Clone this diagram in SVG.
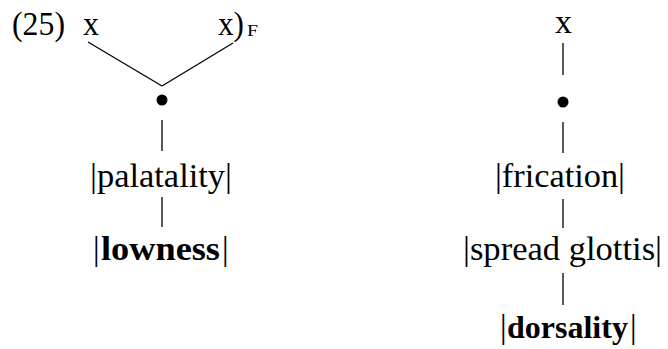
<svg xmlns="http://www.w3.org/2000/svg" width="668" height="349" viewBox="0 0 668 349">
  <style>
    text { font-family: "Liberation Serif", "DejaVu Serif", serif; fill: #000; }
    .lbl { font-size: 33px; }
    .b { font-weight: bold; }
    .sub { font-size: 17px; }
    .edge { stroke: #000; stroke-width: 1.3; fill: none; }
    .dot { fill: #000; }
  </style>
  <rect width="668" height="349" fill="#fff"/>

  <!-- example number -->
  <text id="num" class="lbl" x="12" y="35" textLength="53" lengthAdjust="spacingAndGlyphs">(25)</text>

  <!-- connectors -->
  <g id="connectors">
    <line class="edge" x1="88" y1="42" x2="162" y2="86"/>
    <line class="edge" x1="233" y1="43" x2="162" y2="86"/>
    <line class="edge" x1="162" y1="120" x2="162" y2="151"/>
    <line class="edge" x1="162" y1="197" x2="162" y2="227"/>
    <line class="edge" x1="563" y1="43" x2="563" y2="75"/>
    <line class="edge" x1="563" y1="122" x2="563" y2="153"/>
    <line class="edge" x1="563" y1="199" x2="563" y2="228"/>
    <line class="edge" x1="563" y1="273" x2="563" y2="305"/>
  </g>

  <!-- left structure -->
  <g id="x-left"><text class="lbl" x="83" y="35" textLength="16" lengthAdjust="spacingAndGlyphs">x</text></g>
  <g id="x-right">
    <text class="lbl" x="218" y="35" textLength="26" lengthAdjust="spacingAndGlyphs">x)</text>
    <text class="sub" x="247" y="36" textLength="11" lengthAdjust="spacingAndGlyphs">F</text>
  </g>
  <g id="dot-left"><circle class="dot" cx="162" cy="100" r="5.5"/></g>
  <g id="palatality"><text class="lbl" x="90" y="187" textLength="142" lengthAdjust="spacingAndGlyphs">|palatality|</text></g>
  <g id="lowness">
    <text class="lbl" x="93" y="260">|</text>
    <text class="lbl b" x="101" y="260" textLength="119" lengthAdjust="spacingAndGlyphs">lowness</text>
    <text class="lbl" x="222" y="260">|</text>
  </g>

  <!-- right structure -->
  <g id="x-single"><text class="lbl" x="555" y="33" textLength="17" lengthAdjust="spacingAndGlyphs">x</text></g>
  <g id="dot-right"><circle class="dot" cx="563" cy="102" r="5.5"/></g>
  <g id="frication"><text class="lbl" x="495" y="187" textLength="130" lengthAdjust="spacingAndGlyphs">|frication|</text></g>
  <g id="spread-glottis"><text class="lbl" x="463" y="260" textLength="199" lengthAdjust="spacingAndGlyphs">|spread glottis|</text></g>
  <g id="dorsality">
    <text class="lbl" x="500" y="338">|</text>
    <text class="b" x="507" y="338" font-size="32">dorsality</text>
    <text class="lbl" x="630" y="338">|</text>
  </g>
</svg>
